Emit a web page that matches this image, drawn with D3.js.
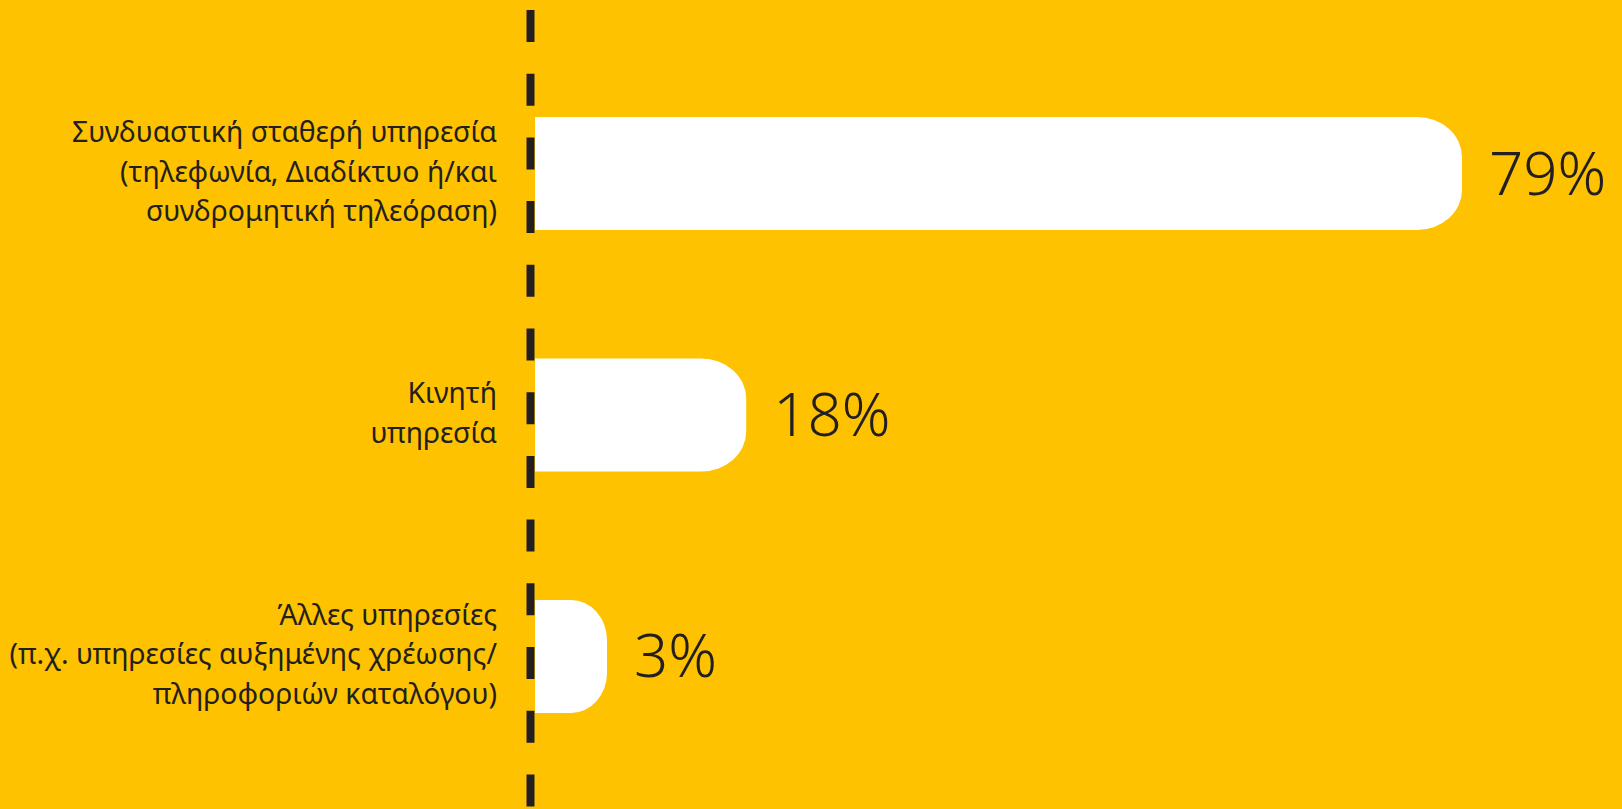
<!DOCTYPE html>
<html>
<head>
<meta charset="utf-8">
<script src="https://cdn.jsdelivr.net/npm/d3@7/dist/d3.min.js"></script>
<style>
  html, body { margin: 0; padding: 0; background: #FFC200; }
  svg { display: block; }
  text { font-family: "Noto Sans", "Open Sans", sans-serif; fill: #231f20; }
</style>
</head>
<body>
<svg id="chart" width="1622" height="809"></svg>
<script>
// Data
const categories = [
  ["Συνδυαστική σταθερή υπηρεσία", "(τηλεφωνία, Διαδίκτυο ή/και", "συνδρομητική τηλεόραση)"],
  ["Κινητή", "υπηρεσία"],
  ["Άλλες υπηρεσίες", "(π.χ. υπηρεσίες αυξημένης χρέωσης/", "πληροφοριών καταλόγου)"]
];
const values = [79, 18, 3];
const valueLabels = ["79%", "18%", "3%"];

const W = 1622, H = 809;
const svg = d3.select("#chart");

const x0 = 535;
const x = d3.scaleLinear().domain([0, 79]).range([x0, 1462]);
const y = d3.scaleBand().domain(d3.range(values.length)).range([117, 713]).paddingInner(0.532).paddingOuter(0);

svg.append("rect").attr("width", W).attr("height", H).attr("fill", "#FFC200");

// dashed axis line
svg.append("line")
  .attr("x1", 530.5).attr("x2", 530.5)
  .attr("y1", 10).attr("y2", H)
  .attr("stroke", "#231f20").attr("stroke-width", 8)
  .attr("stroke-dasharray", "32 31.7");

const rx = 45, ry = 40;
function barPath(v, i) {
  const top = y(i), h = y.bandwidth();
  const w = Math.max(x(v) - x0, 72);
  const r = Math.min(rx, w / 2);
  const right = x0 + w;
  return `M${x0},${top} H${right - r} A${r},${ry} 0 0 1 ${right},${top + ry}` +
         ` V${top + h - ry} A${r},${ry} 0 0 1 ${right - r},${top + h} H${x0} Z`;
}

svg.selectAll("path.bar").data(values).enter().append("path")
  .attr("class", "bar")
  .attr("d", (d, i) => barPath(d, i))
  .attr("fill", "#ffffff");

// value labels
svg.selectAll("text.val").data(values).enter().append("text")
  .attr("class", "val")
  .attr("x", (d, i) => x0 + Math.max(x(d) - x0, 72) + 27)
  .attr("y", (d, i) => y(i) + y.bandwidth() / 2 + 21)
  .attr("font-size", 60)
  .attr("font-weight", 300)
  .text((d, i) => valueLabels[i]);

// category labels
const lh = 39.5;
categories.forEach((lines, i) => {
  const cy = y(i) + y.bandwidth() / 2 + 8;
  const t = svg.append("text")
    .attr("text-anchor", "end")
    .attr("font-size", 28.4)
    .attr("font-weight", 400);
  lines.forEach((ln, j) => {
    t.append("tspan")
      .attr("x", 497)
      .attr("y", cy + (j - (lines.length - 1) / 2) * lh)
      .text(ln);
  });
});
</script>
</body>
</html>
